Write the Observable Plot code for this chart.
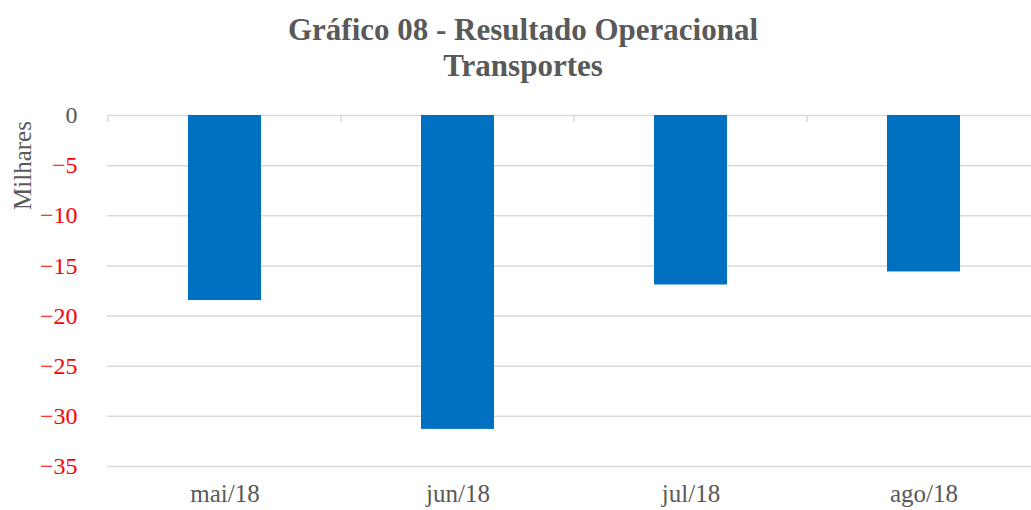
<!DOCTYPE html>
<html>
<head>
<meta charset="utf-8">
<script src="https://cdn.jsdelivr.net/npm/d3@7"></script>
<script src="https://cdn.jsdelivr.net/npm/@observablehq/plot@0.6"></script>
<style>
  html, body { margin: 0; padding: 0; background: #fff; overflow: hidden; }
  #title { width: 1046px; height: 90px; text-align: center; font-family: "Liberation Serif", "Times New Roman", serif;
           font-weight: bold; font-size: 31px; line-height: 36px; color: #595959; padding-top: 12px; box-sizing: border-box; }
  #chart svg { display: block; max-width: none !important; }
</style>
</head>
<body>
<div id="title">Gráfico 08 - Resultado Operacional<br>Transportes</div>
<div id="chart"></div>
<script>
const months = ["mai/18", "jun/18", "jul/18", "ago/18"];
const values = [-18.45, -31.3, -16.9, -15.6];
const yTicks = [0, -5, -10, -15, -20, -25, -30, -35];
const yTitle = "Milhares";

const data = months.map((m, i) => ({month: m, value: values[i]}));
const font = "'Liberation Serif', 'Times New Roman', serif";

const plot = Plot.plot({
  width: 1042,
  height: 420,
  marginLeft: 107,
  marginRight: 0,
  marginTop: 25,
  marginBottom: 44,
  style: {fontFamily: font, fontSize: "24px", background: "#fff", maxWidth: "none"},
  x: {domain: months, paddingInner: 0.686, paddingOuter: 0.343, label: null},
  y: {domain: [-35, 0], label: null},
  marks: [
    Plot.gridY(yTicks, {stroke: "#d9d9d9", strokeOpacity: 1, strokeWidth: 1.5}),
    Plot.ruleX(months, {x: d => d, y1: 0, y2: -0.7, dx: -116.9, stroke: "#d9d9d9", strokeWidth: 1.5}),
    Plot.barY(data, {x: "month", y: "value", fill: "#0070C0"}),
    Plot.axisY(yTicks.filter(d => d === 0), {tickSize: 0, tickPadding: 30, fill: "#595959", label: null, fontSize: 24}),
    Plot.axisY(yTicks.filter(d => d < 0), {tickSize: 0, tickPadding: 30, fill: "#FF0000", label: null, fontSize: 24}),
    Plot.axisX({tickSize: 0, tickPadding: 18, fill: "#595959", label: null, fontSize: 25}),
    Plot.text([yTitle], {frameAnchor: "top-left", text: d => d, rotate: -90, textAnchor: "middle", lineAnchor: "middle", dx: -85, dy: 50, fill: "#595959", fontSize: 25})
  ]
});
document.getElementById("chart").appendChild(plot);
</script>
</body>
</html>
